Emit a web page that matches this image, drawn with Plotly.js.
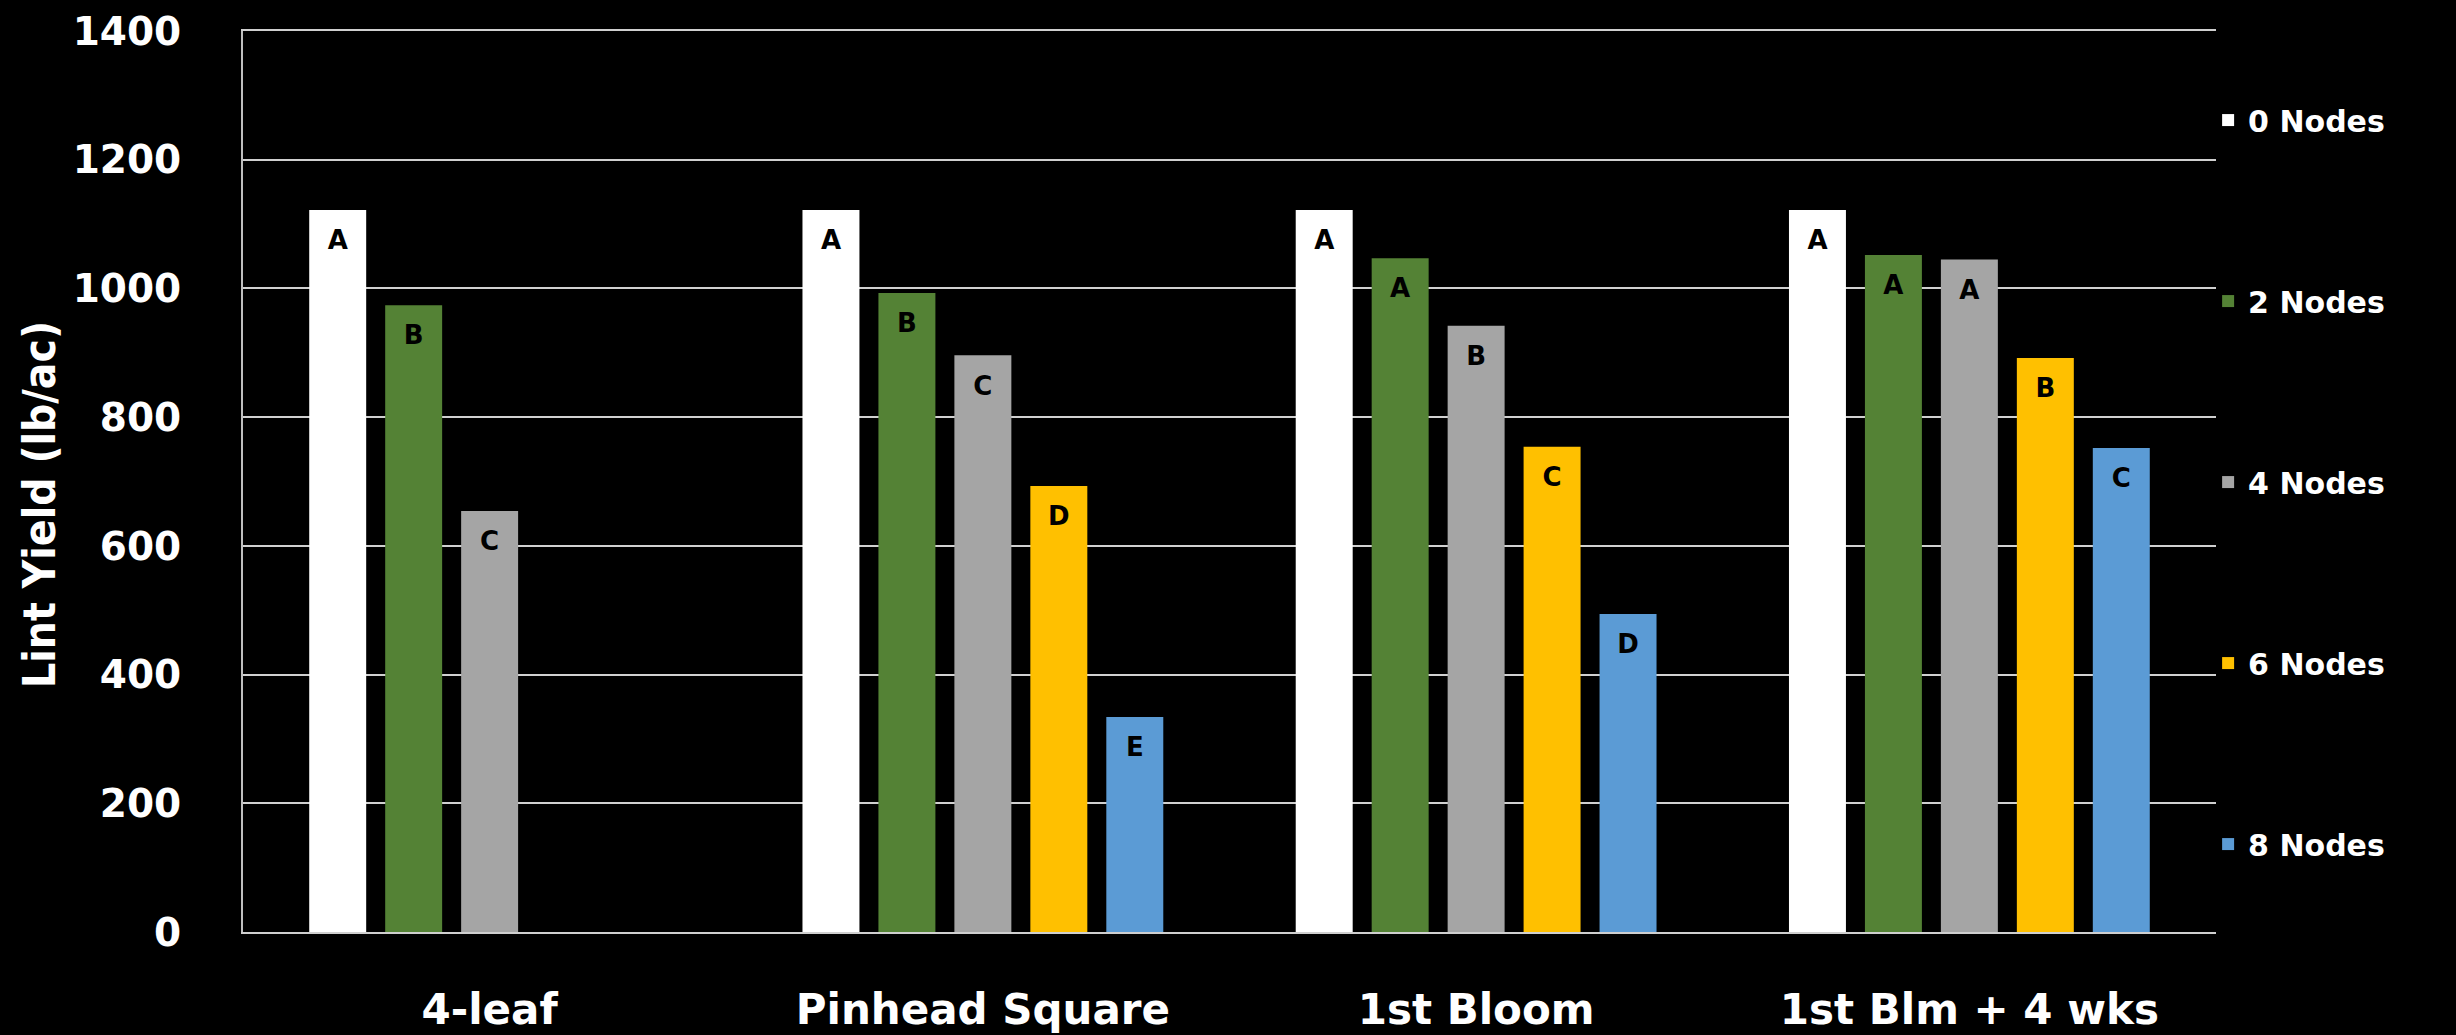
<!DOCTYPE html>
<html>
<head>
<meta charset="utf-8">
<script src="https://cdn.plot.ly/plotly-3.0.1.min.js"></script>
<style>
  html, body { margin: 0; padding: 0; background: #000; }
  #chart { width: 2456px; height: 1035px; }
</style>
</head>
<body>
<div id="chart"></div>
<script>
// ---- data ----
const stages = ["4-leaf", "Pinhead Square", "1st Bloom", "1st Blm + 4 wks"];
const seriesNames = ["0 Nodes", "2 Nodes", "4 Nodes", "6 Nodes", "8 Nodes"];
const nodes0 = [1122, 1122, 1122, 1122];
const nodes2 = [974, 993, 1047, 1052];
const nodes4 = [654, 896, 942, 1045];
const nodes6 = [null, 693, 754, 892];
const nodes8 = [null, 334, 494, 752];
const letters0 = ["A", "A", "A", "A"];
const letters2 = ["B", "B", "A", "A"];
const letters4 = ["C", "C", "B", "A"];
const letters6 = ["", "D", "C", "B"];
const letters8 = ["", "E", "D", "C"];
const yTicks = [0, 200, 400, 600, 800, 1000, 1200, 1400];
const yTitle = "Lint Yield (lb/ac)";

// ---- styles ----
const colors = ["#ffffff", "#548235", "#a5a5a5", "#ffc000", "#5b9bd5"];
const values = [nodes0, nodes2, nodes4, nodes6, nodes8];
const letters = [letters0, letters2, letters4, letters6, letters8];
const FONT = "DejaVu Sans, Verdana, sans-serif";

const barTraces = seriesNames.map((name, i) => ({
  type: "bar",
  name: name,
  x: stages,
  y: values[i],
  marker: { color: colors[i], line: { width: 0 } },
  legendgroup: "g" + i,
  hoverinfo: "x+y+name"
}));

const letterTraces = seriesNames.map((name, i) => ({
  type: "scatter",
  mode: "markers+text",
  orientation: "v",
  name: name + " letters",
  x: stages,
  y: values[i],
  text: letters[i],
  textposition: "bottom center",
  textfont: { family: FONT, size: 26, color: "#000000", weight: "bold" },
  marker: { size: 30, color: "rgba(0,0,0,0)" },
  showlegend: false,
  hoverinfo: "skip",
  cliponaxis: false
}));

const layout = {
  width: 2456,
  height: 1035,
  paper_bgcolor: "#000000",
  plot_bgcolor: "#000000",
  margin: { l: 243, r: 240, t: 31, b: 103 },
  barmode: "group",
  bargap: 0.23,
  bargroupgap: 0.25,
  scattermode: "group",
  scattergap: 0.23,
  showlegend: true,
  legend: {
    x: 0.996,
    xanchor: "left",
    y: 0.93,
    yanchor: "top",
    font: { family: FONT, size: 30, color: "#ffffff", weight: "bold" },
    tracegroupgap: 139,
    bgcolor: "rgba(0,0,0,0)"
  },
  xaxis: {
    type: "category",
    tickfont: { family: FONT, size: 42, color: "#ffffff", weight: "bold" },
    ticks: "",
    showgrid: false,
    showline: true,
    mirror: true,
    linecolor: "#cfcfcf",
    linewidth: 2,
    ticklabelstandoff: 40,
    zeroline: false
  },
  yaxis: {
    range: [0, 1400],
    tickvals: yTicks,
    ticktext: yTicks.map(String),
    tickfont: { family: FONT, size: 39, color: "#ffffff", weight: "bold" },
    ticks: "",
    showgrid: true,
    gridcolor: "#d0d0d0",
    gridwidth: 2,
    showline: true,
    linecolor: "#bfbfbf",
    linewidth: 2,
    zeroline: false,
    ticklabelstandoff: 52
  },
  annotations: [{
    text: yTitle,
    xref: "paper",
    yref: "paper",
    x: -0.1034,
    y: 0.475,
    xanchor: "center",
    yanchor: "middle",
    textangle: -90,
    showarrow: false,
    font: { family: "DejaVu Sans Condensed, DejaVu Sans, sans-serif", size: 44, color: "#ffffff", weight: "bold" }
  }]
};

Plotly.newPlot("chart", barTraces.concat(letterTraces), layout, { displayModeBar: false, staticPlot: true });
</script>
</body>
</html>
